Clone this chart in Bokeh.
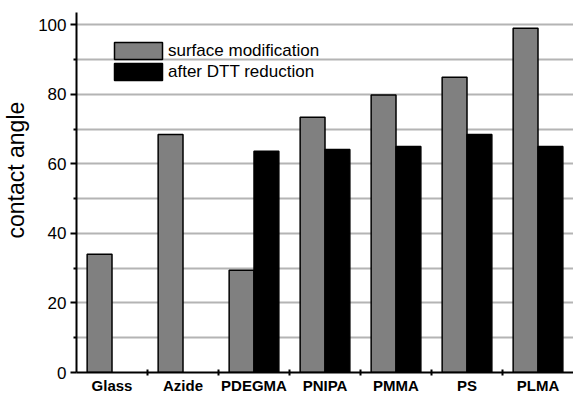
import math
from bokeh.plotting import figure
from bokeh.models import (ColumnDataSource, FixedTicker, Range1d, Legend, LegendItem)
from bokeh.transform import dodge
from bokeh.embed import file_html
from bokeh.resources import INLINE

categories = ["Glass", "Azide", "PDEGMA", "PNIPA", "PMMA", "PS", "PLMA"]
surface_modification = [34.0, 68.4, 29.4, 73.4, 79.8, 84.9, 99.0]
after_dtt_reduction = [math.nan, math.nan, 63.6, 64.1, 65.0, 68.4, 65.0]
y_major_ticks = [0, 20, 40, 60, 80, 100]
y_minor_ticks = [10, 30, 50, 70, 90]

FONT = "Liberation Sans"
positions = list(range(1, len(categories) + 1))
src = ColumnDataSource(dict(x=positions, s=surface_modification, d=after_dtt_reduction))

p = figure(width=573, height=396, output_backend="svg", toolbar_location=None,
           x_range=Range1d(0.5, len(categories) + 0.5), y_range=Range1d(0, 103.5),
           min_border_left=73, min_border_right=0, min_border_top=12, min_border_bottom=22)
p.outline_line_color = None
p.background_fill_color = None
p.border_fill_color = "white"

r1 = p.vbar(x=dodge("x", -0.175), top="s", width=0.35, source=src,
            fill_color="#808080", line_color="black", line_width=1.5)
r2 = p.vbar(x=dodge("x", 0.175), top="d", width=0.35, source=src,
            fill_color="black", line_color="black", line_width=1.5)

# x axis
xa = p.xaxis[0]
xa.ticker = FixedTicker(ticks=positions, minor_ticks=[i + 0.5 for i in positions[:-1]])
xa.major_label_overrides = {i: c for i, c in zip(positions, categories)}
xa.major_tick_in = 0
xa.major_tick_out = 0
xa.minor_tick_in = 3
xa.minor_tick_out = 3
xa.minor_tick_line_width = 2
xa.axis_line_width = 2
xa.major_label_text_font = FONT
xa.major_label_text_font_style = "bold"
xa.major_label_text_font_size = "15px"
xa.major_label_text_color = "black"
xa.major_label_standoff = 1

# y axis
ya = p.yaxis[0]
ya.ticker = FixedTicker(ticks=y_major_ticks, minor_ticks=y_minor_ticks)
ya.major_tick_in = 0
ya.major_tick_out = 6
ya.minor_tick_in = 0
ya.minor_tick_out = 3
ya.major_tick_line_width = 2
ya.minor_tick_line_width = 2
ya.axis_line_width = 2
ya.axis_line_color = "#000000"
ya.major_label_text_font = FONT
ya.major_label_text_font_size = "17px"
ya.major_label_text_color = "black"
ya.major_label_standoff = 4
ya.axis_label = "\u00a0" * 7 + "contact angle"
ya.axis_label_text_font = FONT
ya.axis_label_text_font_size = "23px"
ya.axis_label_text_font_style = "normal"
ya.axis_label_text_color = "black"
ya.axis_label_standoff = 6

p.xgrid.visible = False
p.ygrid.grid_line_color = "#b4b4b4"
p.ygrid.grid_line_width = 2
p.ygrid.grid_line_alpha = 1.0
p.ygrid.minor_grid_line_color = "#b4b4b4"
p.ygrid.minor_grid_line_width = 2
p.ygrid.minor_grid_line_alpha = 1.0

legend = Legend(items=[LegendItem(label="surface modification", renderers=[r1]),
                       LegendItem(label="after DTT reduction", renderers=[r2])],
                location=(32, 290), orientation="vertical")
legend.margin = 0
legend.padding = 0
legend.spacing = 0
legend.glyph_width = 60
legend.glyph_height = 21
legend.label_height = 21
legend.label_standoff = 0
legend.label_text_font = FONT
legend.label_text_font_size = "17px"
legend.label_text_color = "black"
legend.border_line_color = None
legend.background_fill_alpha = 0
p.add_layout(legend, "center")

open("out.html", "w").write(file_html(p, INLINE))
